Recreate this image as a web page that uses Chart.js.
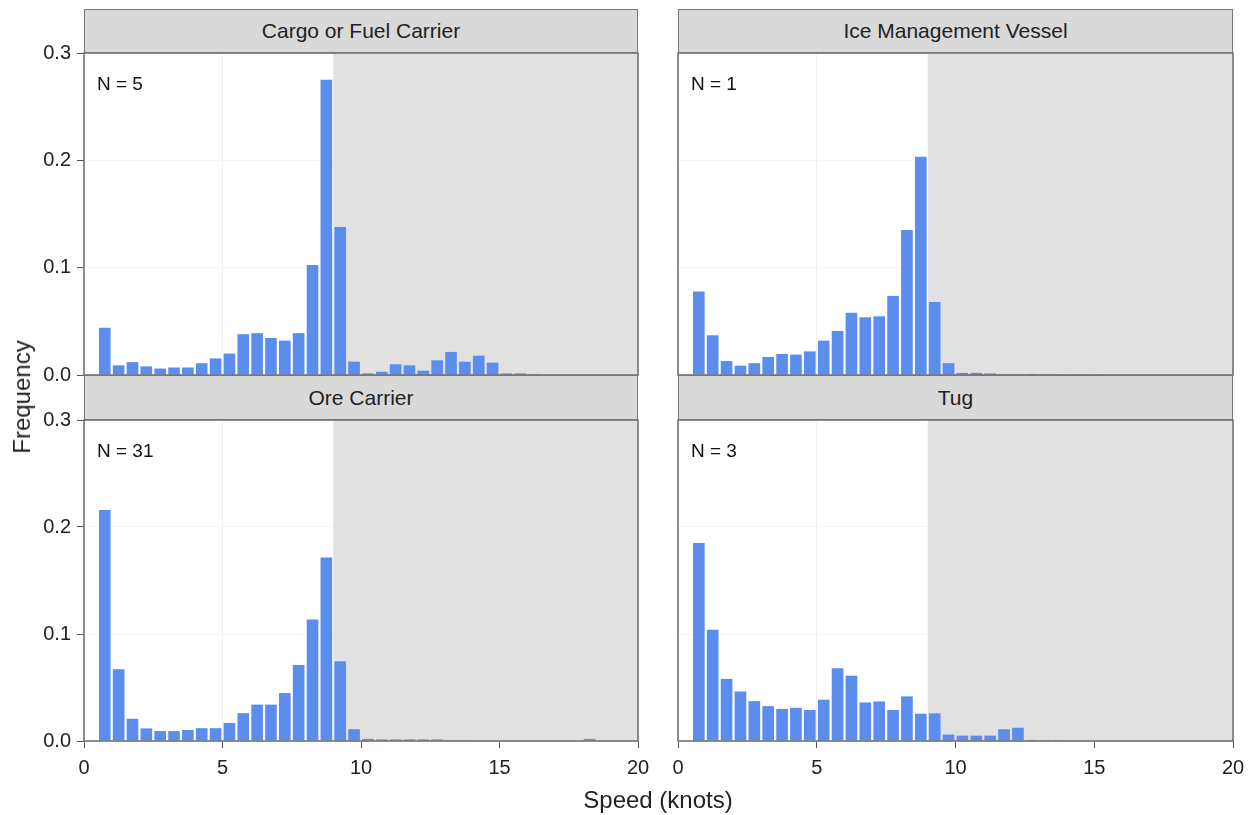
<!DOCTYPE html>
<html>
<head>
<meta charset="utf-8">
<script src="https://cdn.jsdelivr.net/npm/chart.js@4.4.1/dist/chart.umd.min.js"></script>
<style>
  body { margin: 0; background: #fff; font-family: 'Liberation Sans', Arial, sans-serif; }
  #wrap { position: relative; width: 1257px; height: 815px; overflow: hidden; }
  .box { position: absolute; }
  .strip { position: absolute; box-sizing: border-box; background: #d9d9d9; border: 1px solid #777;
           font-size: 21px; color: #222; text-align: center; }
  .nlab { position: absolute; font-size: 19px; color: #111; }
  .axt { position: absolute; font-size: 24px; color: #222; white-space: nowrap; }
</style>
</head>
<body>
<div id="wrap"></div>
<script>
// bin starts (knots), each bin is 0.5 wide
const binStart = [0.5, 1.0, 1.5, 2.0, 2.5, 3.0, 3.5, 4.0, 4.5, 5.0, 5.5, 6.0, 6.5, 7.0, 7.5, 8.0, 8.5, 9.0, 9.5,
  10.0, 10.5, 11.0, 11.5, 12.0, 12.5, 13.0, 13.5, 14.0, 14.5, 15.0, 15.5, 16.0, 16.5, 17.0, 17.5, 18.0, 18.5, 19.0, 19.5];

const panelTitles = ['Cargo or Fuel Carrier', 'Ice Management Vessel', 'Ore Carrier', 'Tug'];
const panelN = [5, 1, 31, 3];

const cargoFreq = [0.044, 0.009, 0.012, 0.008, 0.006, 0.007, 0.007, 0.011, 0.0155, 0.020, 0.038, 0.039, 0.0345, 0.032, 0.039, 0.1026, 0.275, 0.138, 0.0124,
  0.0015, 0.003, 0.010, 0.009, 0.004, 0.0137, 0.0215, 0.0124, 0.018, 0.0115, 0.0015, 0.0015, 0.001, 0, 0, 0, 0, 0, 0, 0];
const iceFreq = [0.0777, 0.037, 0.013, 0.0087, 0.011, 0.0168, 0.0196, 0.019, 0.022, 0.032, 0.041, 0.058, 0.0538, 0.0547, 0.0737, 0.135, 0.2034, 0.068, 0.011,
  0.002, 0.002, 0.0015, 0.001, 0.001, 0.001, 0.001, 0.0008, 0.0008, 0.0008, 0.0008, 0, 0, 0, 0, 0, 0, 0, 0, 0];
const oreFreq = [0.216, 0.067, 0.0208, 0.0118, 0.0093, 0.0093, 0.0103, 0.012, 0.012, 0.0168, 0.026, 0.034, 0.034, 0.0448, 0.071, 0.1135, 0.1716, 0.0746, 0.011,
  0.002, 0.0015, 0.0015, 0.0015, 0.0015, 0.0015, 0.001, 0.001, 0, 0, 0, 0, 0, 0, 0, 0, 0.002, 0, 0, 0];
const tugFreq = [0.185, 0.104, 0.058, 0.0463, 0.0373, 0.0326, 0.030, 0.031, 0.029, 0.0386, 0.068, 0.061, 0.036, 0.037, 0.029, 0.0417, 0.0255, 0.0258, 0.006,
  0.005, 0.005, 0.005, 0.011, 0.0124, 0.001, 0.001, 0.001, 0, 0, 0, 0, 0, 0, 0, 0, 0, 0, 0, 0];

const xTicks = [0, 5, 10, 15, 20];
const yTicks = [0.0, 0.1, 0.2, 0.3];
const shadeFrom = 9; // speed limit region

Chart.defaults.font.family = "'Liberation Sans', Arial, sans-serif";
Chart.defaults.animation = false;

const wrap = document.getElementById('wrap');
const PAD = 30; // generous padding so Chart.js never grows it for label overflow

// panel geometry: plot area (px, py, pw, ph) and strip
const panels = [
  { data: cargoFreq, px: 84,  py: 53,  pw: 554, ph: 322, showY: true,  showX: false, sy: 9,   sh: 44 },
  { data: iceFreq,   px: 678, py: 53,  pw: 555, ph: 322, showY: false, showX: false, sy: 9,   sh: 44 },
  { data: oreFreq,   px: 84,  py: 420, pw: 554, ph: 321, showY: true,  showX: true,  sy: 375, sh: 45 },
  { data: tugFreq,   px: 678, py: 420, pw: 555, ph: 321, showY: false, showX: true,  sy: 375, sh: 45 }
];

// shaded region + frame around each plot
const facetDecor = {
  id: 'facetDecor',
  beforeDatasetsDraw(chart) {
    const { ctx, chartArea: a, scales } = chart;
    const x0 = scales.x.getPixelForValue(shadeFrom);
    ctx.save();
    ctx.fillStyle = '#e1e1e1';
    ctx.fillRect(x0, a.top, a.right - x0, a.bottom - a.top);
    ctx.restore();
  },
  afterDraw(chart) {
    const { ctx, chartArea: a } = chart;
    ctx.save();
    ctx.strokeStyle = '#6a6a6a';
    ctx.lineWidth = 1.5;
    ctx.strokeRect(a.left, a.top, a.right - a.left, a.bottom - a.top);
    ctx.restore();
  }
};

panels.forEach((p, i) => {
  const yW = p.showY ? 84 : 0;
  const xH = p.showX ? 45 : 0;
  const padL = p.showY ? 0 : PAD;
  const left = p.px - yW - padL;
  const top = p.py - PAD;
  const box = document.createElement('div');
  box.className = 'box';
  Object.assign(box.style, {
    left: left + 'px', top: top + 'px',
    width: (padL + yW + p.pw + PAD) + 'px', height: (PAD + p.ph + xH + PAD) + 'px'
  });
  const cv = document.createElement('canvas');
  box.appendChild(cv);
  wrap.appendChild(box);

  new Chart(cv, {
    type: 'bar',
    data: {
      datasets: [{
        data: binStart.map((b, k) => ({ x: b + 0.25, y: p.data[k] })),
        backgroundColor: '#5b8def',
        borderWidth: 0,
        barPercentage: 0.84,
        categoryPercentage: 1
      }]
    },
    options: {
      responsive: true,
      maintainAspectRatio: false,
      layout: { padding: { top: PAD, right: PAD, bottom: PAD, left: padL } },
      plugins: { legend: { display: false }, tooltip: { enabled: false } },
      scales: {
        x: {
          type: 'linear', min: 0, max: 20, offset: false,
          afterBuildTicks: s => { s.ticks = xTicks.map(v => ({ value: v })); },
          afterFit: s => { s.height = xH; },
          ticks: { display: p.showX, color: '#222', font: { size: 20 }, padding: 8, maxRotation: 0 },
          grid: { offset: false, color: '#f1f1f1', drawTicks: p.showX, tickLength: 7, tickColor: '#555' },
          border: { display: false }
        },
        y: {
          min: 0, max: 0.3,
          afterBuildTicks: s => { s.ticks = yTicks.map(v => ({ value: v })); },
          afterFit: s => { s.width = yW; },
          ticks: { display: p.showY, color: '#222', font: { size: 20 }, padding: 6, callback: v => v.toFixed(1) },
          grid: { color: '#f6f6f6', drawTicks: p.showY, tickLength: 7, tickColor: '#555' },
          border: { display: false }
        }
      }
    },
    plugins: [facetDecor]
  });
});

// strips and N labels on top of the canvases
panels.forEach((p, i) => {
  const strip = document.createElement('div');
  strip.className = 'strip';
  Object.assign(strip.style, { left: p.px + 'px', top: p.sy + 'px', width: p.pw + 'px', height: p.sh + 'px', lineHeight: (p.sh - 2) + 'px' });
  strip.textContent = panelTitles[i];
  wrap.appendChild(strip);

  const nl = document.createElement('div');
  nl.className = 'nlab';
  Object.assign(nl.style, { left: (p.px + 13) + 'px', top: (p.py + 20) + 'px' });
  nl.textContent = 'N = ' + panelN[i];
  wrap.appendChild(nl);
});

const yt = document.createElement('div');
yt.className = 'axt';
yt.textContent = 'Frequency';
Object.assign(yt.style, { left: '22px', top: '397px', transform: 'translate(-50%, -50%) rotate(-90deg)' });
wrap.appendChild(yt);

const xt = document.createElement('div');
xt.className = 'axt';
xt.textContent = 'Speed (knots)';
Object.assign(xt.style, { left: '658px', top: '800px', transform: 'translate(-50%, -50%)' });
wrap.appendChild(xt);
</script>
</body>
</html>
